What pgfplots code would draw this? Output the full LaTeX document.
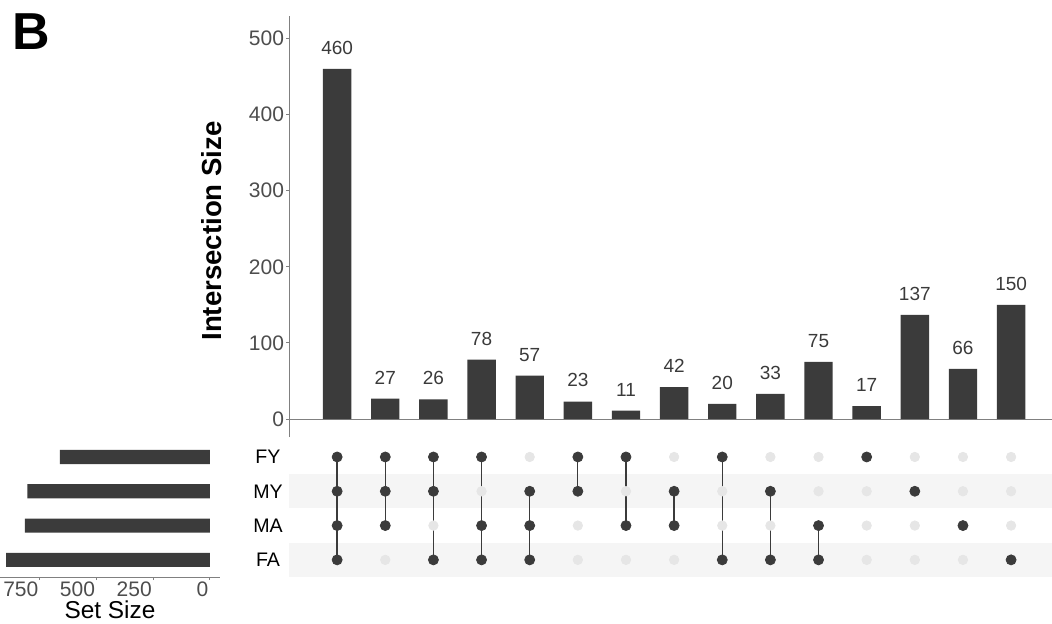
\documentclass[border=0pt]{standalone}
\usepackage{pgfplots}
\pgfplotsset{compat=1.18}
\usepackage{fontspec}
\setmainfont{Liberation Sans}
\definecolor{barcol}{HTML}{3B3B3B}
\definecolor{lightdot}{HTML}{E6E6E6}
\definecolor{bandcol}{HTML}{F5F5F5}
\definecolor{axcol}{HTML}{808080}
\definecolor{ticktext}{HTML}{4D4D4D}
\definecolor{numcol}{HTML}{3A3A3A}
\begin{document}
\begin{tikzpicture}
\path[use as bounding box] (0,0) rectangle (526pt,-311.5pt);
\node[anchor=base west, inner sep=0pt, font=\fontsize{26}{26}\selectfont\bfseries] at (6pt,-24.5pt) {B};

% ---------------- intersection size bars ----------------
\begin{axis}[
  at={(144.5pt,-218.5pt)}, anchor=south west,
  scale only axis, width=381.5pt, height=210.65pt,
  xmin=0, xmax=15.85, ymin=-23.6, ymax=530,
  axis x line=none, axis y line*=left,
  y axis line style={draw=axcol, line width=0.5pt, -},
  ytick={0,100,200,300,400,500},
  tick align=outside, major tick length=1.5pt,
  ytick style={draw=axcol, line width=0.5pt},
  yticklabel style={font=\fontsize{10.5}{12}\selectfont, text=ticktext, inner sep=0.8pt},
  /pgf/number format/assume math mode=true,
  ylabel={Intersection Size},
  every axis y label/.style={at={(axis description cs:-0.1009,0.489)}, rotate=90, anchor=center, font=\fontsize{13.8}{15}\selectfont\bfseries},
  clip=false,
]
\addplot[axcol, line width=0.5pt, forget plot] coordinates {(0,0) (15.85,0)};
\addplot[ybar, bar width=0.59, fill=barcol, draw=none,
  nodes near coords,
  every node near coord/.append style={font=\fontsize{9.5}{10}\selectfont, text=numcol, inner sep=0pt, anchor=south, yshift=7pt}]
  coordinates {(1,460) (2,27) (3,26) (4,78) (5,57) (6,23) (7,11) (8,42) (9,20) (10,33) (11,75) (12,17) (13,137) (14,66) (15,150)};
\end{axis}

% ---------------- matrix ----------------
\begin{axis}[
  at={(144.5pt,-288.5pt)}, anchor=south west,
  scale only axis, width=381.5pt, height=68.6pt,
  xmin=0, xmax=15.85, ymin=0.5, ymax=4.5,
  axis x line=none, axis y line*=left,
  y axis line style={draw=none},
  xtick=\empty, ytick={1,2,3,4}, yticklabels={FA,MA,MY,FY},
  major tick length=0pt, ytick style={draw=none},
  yticklabel style={anchor=center, xshift=-10.5pt, font=\fontsize{9.8}{11}\selectfont, text=black},
  clip=false,
]
\addplot[fill=bandcol, draw=none] coordinates {(0,2.5) (15.85,2.5) (15.85,3.5) (0,3.5)} -- cycle;
\addplot[fill=bandcol, draw=none] coordinates {(0,0.5) (15.85,0.5) (15.85,1.5) (0,1.5)} -- cycle;
% non-member dots
\addplot[only marks, mark=*, mark size=2.35pt, color=lightdot] coordinates {
 (2,1) (3,2) (4,3) (5,4) (6,1) (6,2) (7,1) (7,3) (8,1) (8,4)
 (9,2) (9,3) (10,2) (10,4) (11,3) (11,4)
 (12,1) (12,2) (12,3) (13,1) (13,2) (13,4) (14,1) (14,3) (14,4) (15,2) (15,3) (15,4)};
% connecting lines
\addplot[barcol, line width=0.65pt, unbounded coords=jump] coordinates {
 (1,1) (1,4) (1,nan) (2,2) (2,4) (2,nan) (3,1) (3,4) (3,nan) (4,1) (4,4) (4,nan)
 (5,1) (5,3) (5,nan) (6,3) (6,4) (6,nan) (7,2) (7,4) (7,nan) (8,2) (8,3) (8,nan)
 (9,1) (9,4) (9,nan) (10,1) (10,3) (10,nan) (11,1) (11,2)};
% member dots
\addplot[only marks, mark=*, mark size=2.5pt, color=barcol] coordinates {
 (1,1) (1,2) (1,3) (1,4) (2,2) (2,3) (2,4) (3,1) (3,3) (3,4) (4,1) (4,2) (4,4)
 (5,1) (5,2) (5,3) (6,3) (6,4) (7,2) (7,4) (8,2) (8,3) (9,1) (9,4) (10,1) (10,3)
 (11,1) (11,2) (12,4) (13,3) (14,2) (15,1)};
\end{axis}

% ---------------- set size ----------------
\begin{axis}[
  at={(0pt,-288.5pt)}, anchor=south west,
  scale only axis, width=110pt, height=68.6pt,
  xmin=-44, xmax=926, x dir=reverse, ymin=0.5, ymax=4.5,
  axis x line*=bottom, axis y line=none,
  x axis line style={draw=axcol, line width=0.5pt, -},
  xtick={0,250,500,750}, ytick=\empty,
  tick align=outside, major tick length=1.5pt,
  xtick style={draw=axcol, line width=0.5pt},
  xticklabel style={anchor=north east, font=\fontsize{10.5}{12}\selectfont, text=ticktext, inner sep=0.6pt},
  /pgf/number format/assume math mode=true,
  xlabel={Set Size},
  every axis x label/.style={at={(axis description cs:0.5,0)}, anchor=north, yshift=-11.8pt, inner sep=0pt, font=\fontsize{12.2}{13}\selectfont},
  clip=false,
]
\addplot[xbar, bar width=0.41, fill=barcol, draw=none] coordinates {(662,4) (805,3) (816,2) (899,1)};
\end{axis}
\end{tikzpicture}
\end{document}
